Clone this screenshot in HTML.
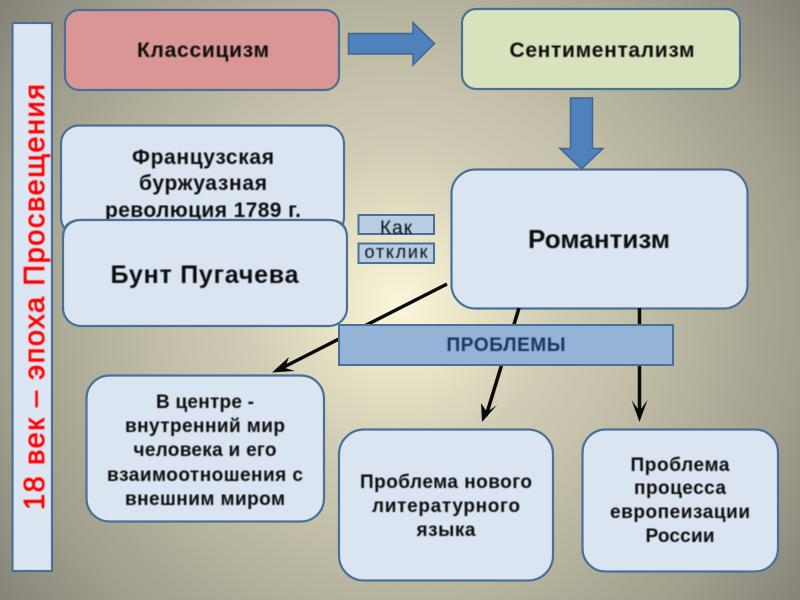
<!DOCTYPE html>
<html><head><meta charset="utf-8"><style>
html,body{margin:0;padding:0;width:800px;height:600px;overflow:hidden}
svg{display:block}
text{font-family:"Liberation Sans",sans-serif;font-weight:bold;fill:#111;text-anchor:middle}
</style></head><body>
<svg width="800" height="600" viewBox="0 0 800 600" xmlns="http://www.w3.org/2000/svg">
<defs>
<radialGradient id="bg" gradientUnits="userSpaceOnUse" cx="400" cy="305" r="500">
<stop offset="0" stop-color="#fbf7dc"/><stop offset="0.12" stop-color="#ece6c9"/><stop offset="0.3" stop-color="#d2cdb5"/><stop offset="0.5" stop-color="#c0bca6"/><stop offset="0.8" stop-color="#a09e8c"/><stop offset="1" stop-color="#85837a"/>
</radialGradient>
<filter id="b" x="-20%" y="-20%" width="140%" height="140%"><feGaussianBlur stdDeviation="0.4"/></filter>
</defs>
<rect width="800" height="600" fill="url(#bg)"/>
<g stroke="#4a7098" stroke-width="2.2" fill="#dbe5f1">
<rect x="12.500" y="23" width="39.500" height="548" fill="#dce6f2"/>
<rect x="65" y="10" width="274" height="80" rx="14" fill="#d99694"/>
<rect x="462" y="9" width="278" height="80" rx="14" fill="#d8e3bd"/>
<rect x="61" y="125.500" width="283" height="110" rx="18"/>
<rect x="63" y="220" width="284" height="106" rx="18"/>
<rect x="451.500" y="169.500" width="296" height="139" rx="24"/>
<rect x="86.500" y="375.500" width="237.500" height="146" rx="23"/>
<rect x="339" y="429.500" width="214" height="151" rx="25"/>
<rect x="582.500" y="429.500" width="195.500" height="142" rx="23"/>
<rect x="358.500" y="215" width="75.500" height="19" fill="#b9cde5" stroke-width="2"/>
<rect x="358.500" y="243.500" width="75.500" height="19.500" fill="#b9cde5" stroke-width="2"/>
</g>
<polygon points="348.500,33.500 413,33.500 413,22.500 434.500,43.500 413,65 413,54 348.500,54" fill="#4f81bd" stroke="#41678f" stroke-width="1.500"/>
<polygon points="570.500,98 592.500,98 592.500,148.500 603,148.500 581.500,169 560,148.500 570.500,148.500" fill="#4f81bd" stroke="#41678f" stroke-width="1.500"/>
<g stroke="#0a0a0a" stroke-width="3.500" fill="none">
<line x1="447" y1="284" x2="280" y2="369"/>
<line x1="519" y1="308" x2="486" y2="416"/>
<line x1="639.500" y1="308" x2="639.500" y2="414"/>
</g>
<g fill="#0a0a0a">
<polygon points="272,372.500 289,357 285,368 295,371"/>
<polygon points="482,422 481,403 487,412 497,405"/>
<polygon points="639.500,422 631.500,400 639.500,411 647.500,400"/>
</g>
<rect x="339" y="325" width="334" height="40" fill="#95b3d7" stroke="#4a7098" stroke-width="2"/>
<g filter="url(#b)">
<text x="203" y="57" font-size="21" textLength="132" lengthAdjust="spacing">Классицизм</text>
<text x="602" y="57" font-size="21" textLength="185" lengthAdjust="spacing">Сентиментализм</text>
<text x="203" y="164" font-size="21" textLength="142" lengthAdjust="spacing">Французская</text>
<text x="203" y="190" font-size="21" textLength="128" lengthAdjust="spacing">буржуазная</text>
<text x="203" y="217" font-size="21" textLength="196" lengthAdjust="spacing">революция 1789 г.</text>
</g>
<rect x="64" y="221" width="282" height="30" rx="17" fill="#dbe5f1"/>
<path d="M63 238 Q63 220 81 220 H329 Q347 220 347 238" fill="none" stroke="#4a7098" stroke-width="2.200"/>
<g filter="url(#b)">
<text x="204.500" y="283" font-size="25" textLength="188" lengthAdjust="spacing">Бунт Пугачева</text>
<text x="599" y="248" font-size="26" textLength="142" lengthAdjust="spacing">Романтизм</text>
<text x="506" y="351" font-size="19" style="fill:#17375e" textLength="119" lengthAdjust="spacing">ПРОБЛЕМЫ</text>
<text x="396" y="234" font-size="19" style="font-weight:normal" textLength="32" lengthAdjust="spacing">Как</text>
<text x="396" y="258" font-size="18" style="font-weight:normal" textLength="63" lengthAdjust="spacing">отклик</text>
<text x="205" y="408" font-size="19" textLength="98" lengthAdjust="spacing">В центре -</text>
<text x="205" y="432" font-size="19" textLength="160" lengthAdjust="spacing">внутренний мир</text>
<text x="205" y="456" font-size="19" textLength="143" lengthAdjust="spacing">человека и его</text>
<text x="205" y="481" font-size="19" textLength="196" lengthAdjust="spacing">взаимоотношения с</text>
<text x="205" y="505" font-size="19" textLength="160" lengthAdjust="spacing">внешним миром</text>
<text x="446" y="488" font-size="19" textLength="172" lengthAdjust="spacing">Проблема нового</text>
<text x="446" y="512" font-size="19" textLength="148" lengthAdjust="spacing">литературного</text>
<text x="446" y="536" font-size="19" textLength="59" lengthAdjust="spacing">языка</text>
<text x="680" y="471" font-size="19" textLength="99" lengthAdjust="spacing">Проблема</text>
<text x="680" y="494" font-size="19" textLength="92" lengthAdjust="spacing">процесса</text>
<text x="680" y="518" font-size="19" textLength="140" lengthAdjust="spacing">европеизации</text>
<text x="680" y="542" font-size="19" textLength="69" lengthAdjust="spacing">России</text>
<text transform="translate(44 297) rotate(-90)" font-size="29" style="fill:#f00;stroke:#f00;stroke-width:0.7;font-weight:normal" textLength="426" lengthAdjust="spacing">18 век – эпоха Просвещения</text>
</g>
</svg>
</body></html>
